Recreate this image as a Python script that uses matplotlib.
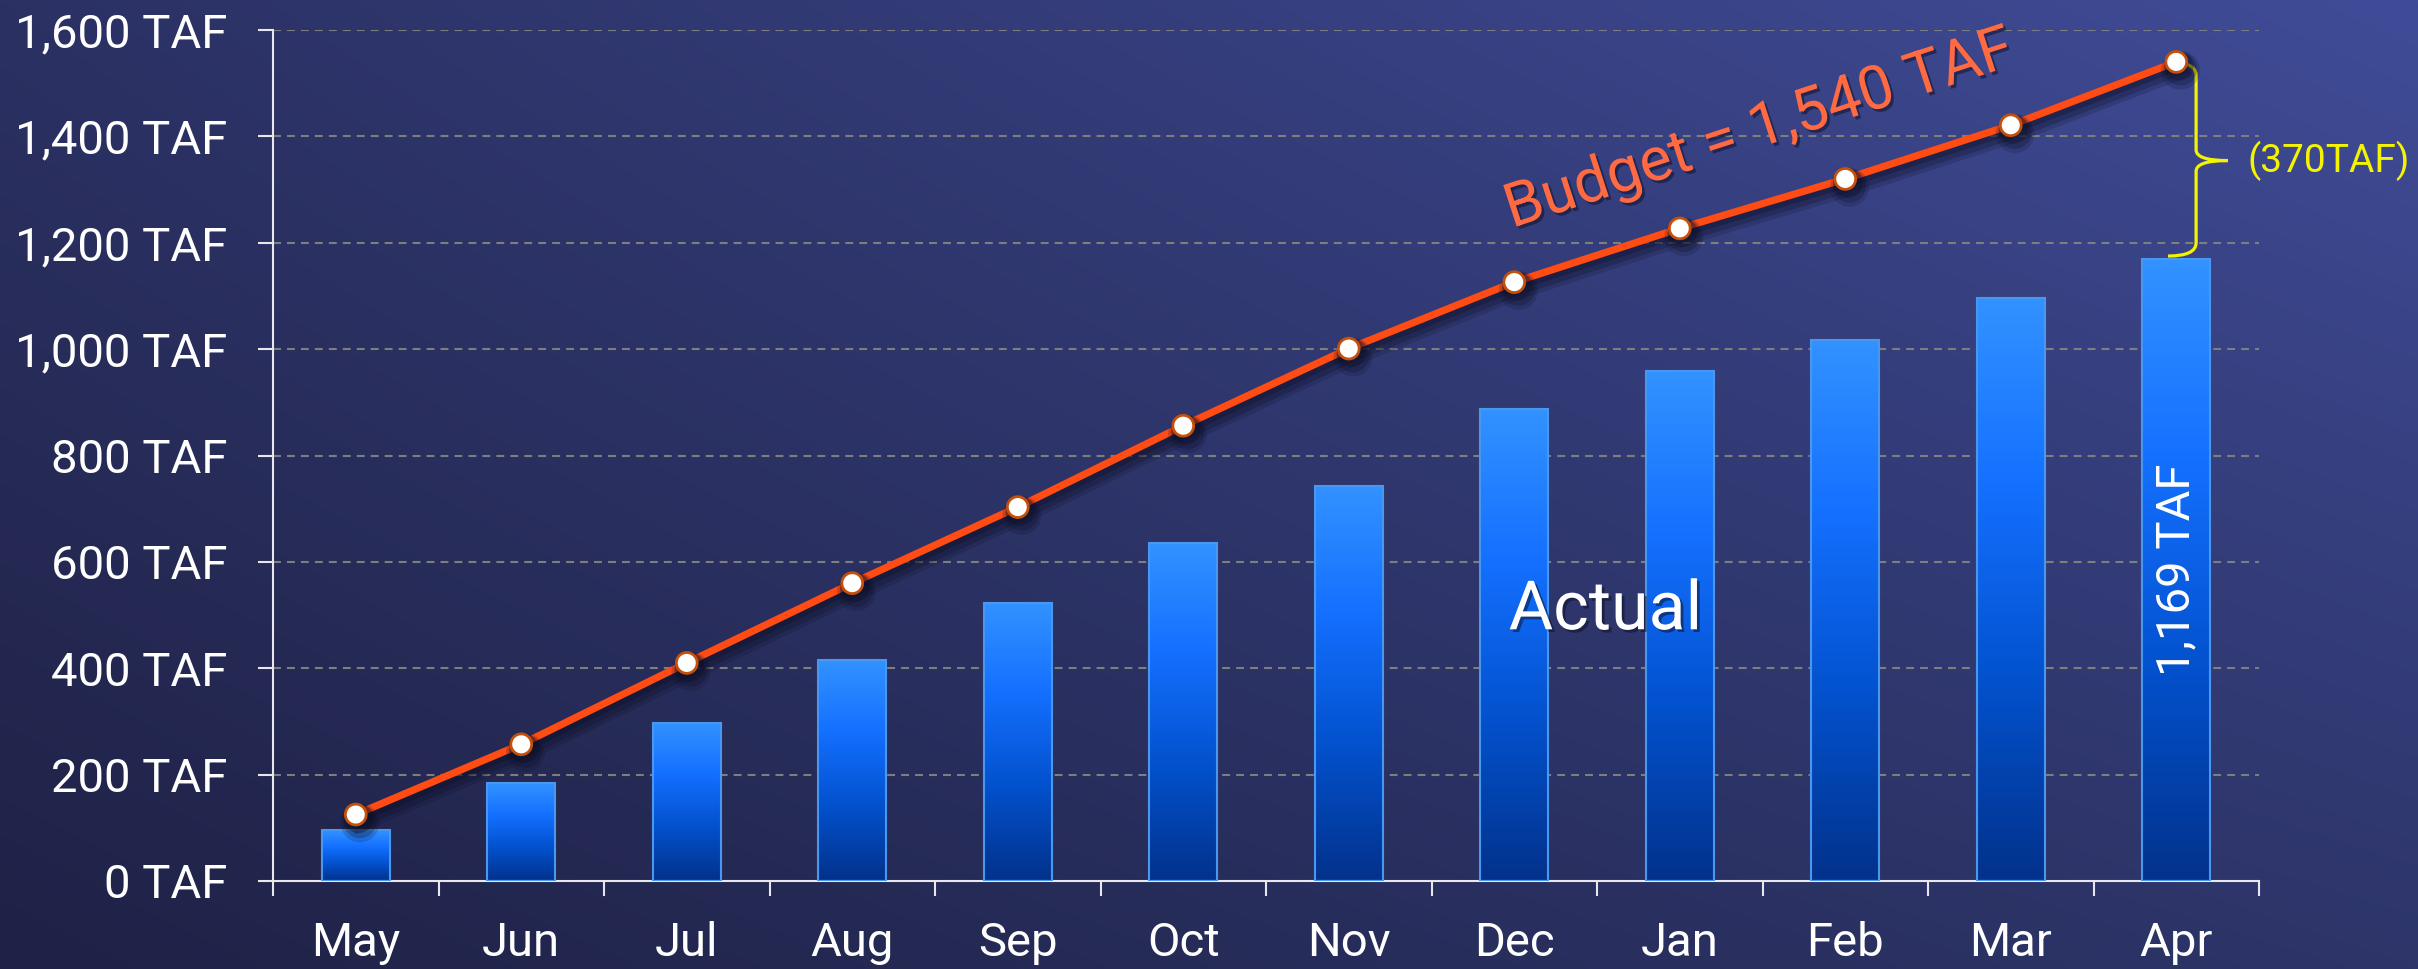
import numpy as np
import matplotlib
matplotlib.use("Agg")
import matplotlib.pyplot as plt
from matplotlib.colors import LinearSegmentedColormap
from matplotlib.path import Path
from matplotlib.patches import PathPatch
import matplotlib.patheffects as pe

plt.rcParams['font.family'] = ['Roboto', 'DejaVu Sans']

months = ["May", "Jun", "Jul", "Aug", "Sep", "Oct", "Nov", "Dec", "Jan", "Feb", "Mar", "Apr"]
actual = [95, 184, 298, 415, 523, 636, 743, 888, 958, 1018, 1097, 1169]
budget = [125, 257, 410, 560, 703, 856, 1001, 1126, 1227, 1320, 1421, 1540]
yticks = [0, 200, 400, 600, 800, 1000, 1200, 1400, 1600]

W, H = 2418, 969
fig = plt.figure(figsize=(W / 100, H / 100), dpi=100)

# background bilinear gradient
bg = fig.add_axes([0, 0, 1, 1], zorder=-10)
bl = np.array([0x1f, 0x22, 0x46]) / 255
tl = np.array([0x2b, 0x31, 0x63]) / 255
br = np.array([0x2d, 0x35, 0x69]) / 255
tr = np.array([0x40, 0x4c, 0x98]) / 255
u = np.linspace(0, 1, 256)[None, :, None]
v = np.linspace(1, 0, 128)[:, None, None]  # row 0 = top
img = (1 - u) * (v * tl + (1 - v) * bl) + u * (v * tr + (1 - v) * br)
bg.imshow(img, aspect='auto', extent=[0, 1, 0, 1], interpolation='bilinear')
bg.set_axis_off()

left_px, right_px, top_px, bot_px = 273, 2259, 30, 881
ax = fig.add_axes([left_px / W, (H - bot_px) / H, (right_px - left_px) / W, (bot_px - top_px) / H])
ax.patch.set_alpha(0)

x = np.arange(len(months)) + 0.5
bw = 0.41

bar_cmap = LinearSegmentedColormap.from_list(
    "bar", [(0, '#02328c'), (0.35, '#0352cf'), (0.68, '#1470ff'), (1, '#3292ff')])
grad = np.linspace(1, 0, 200)[:, None]

bars = ax.bar(x, actual, width=bw, color='none', edgecolor='#4a97f0', lw=1.5, zorder=3)
for b in bars:
    x0, y0 = b.get_x(), b.get_y()
    im = ax.imshow(grad, extent=[x0, x0 + b.get_width(), y0, y0 + b.get_height()],
                   aspect='auto', cmap=bar_cmap, vmin=0, vmax=1, zorder=2.5,
                   interpolation='bilinear')
    im.set_clip_path(b)

shadow = [pe.SimpleLineShadow(offset=(3, -6), shadow_color='#0c0e24', alpha=0.18, linewidth=13),
          pe.SimpleLineShadow(offset=(3, -5), shadow_color='#0c0e24', alpha=0.25, linewidth=9),
          pe.SimpleLineShadow(offset=(2, -3), shadow_color='#0c0e24', alpha=0.3, linewidth=6),
          pe.Normal()]
ax.plot(x, budget, color='#ff4b14', lw=5.2, marker='o', ms=15, mfc='white',
        mec='#c4500c', mew=2, zorder=5, path_effects=shadow)

ax.set_xlim(0, 12)
ax.set_ylim(0, 1600)

# axes styling
for s in ['top', 'right']:
    ax.spines[s].set_visible(False)
for s in ['left', 'bottom']:
    ax.spines[s].set_color('#e8e8ec')
    ax.spines[s].set_linewidth(1.5)

ax.set_yticks(yticks)
ax.set_yticklabels([f"{v:,} TAF" for v in yticks])
ax.tick_params(axis='y', length=10.8, width=1.5, color='#e8e8ec', pad=22,
               labelsize=34, labelcolor='white')
ax.set_xticks(np.arange(0, 13))
ax.set_xticklabels([])
ax.tick_params(axis='x', which='major', length=10.8, width=1.5, color='#e8e8ec')
ax.set_xticks(x, minor=True)
ax.set_xticklabels(months, minor=True)
ax.tick_params(axis='x', which='minor', length=0, pad=29, labelsize=34, labelcolor='white')

ax.set_axisbelow(True)
ax.yaxis.grid(True, color='#7d7f7c', lw=1.5, ls=(0, (3.8, 2.9)))
for gl in ax.yaxis.get_gridlines()[:1]:
    gl.set_visible(False)

ax.text(8.05, 509, "Actual", color='white', fontsize=49, ha='center', va='center',
        zorder=6, path_effects=[pe.SimplePatchShadow(offset=(2, -2), shadow_rgbFace='#0c0e24', alpha=0.5), pe.Normal()])
ax.text(11.5, 586, f"{actual[-1]:,} TAF", color='white', fontsize=34, rotation=90,
        ha='center', va='center', zorder=6)
ax.text(8.98, 1412, f"Budget = {budget[-1]:,} TAF", color='#ff6a42', fontsize=44,
        rotation=18, rotation_mode='anchor', ha='center', va='center', zorder=6,
        path_effects=[pe.SimplePatchShadow(offset=(2, -2), shadow_rgbFace='#0c0e24', alpha=0.5), pe.Normal()])

# curly brace between budget and actual at Apr
ytop, ybot = budget[-1], actual[-1] + 6
ymid = (budget[-1] + actual[-1]) / 2
xs, xv, xt = 11.45, 11.62, 11.81
r, r2 = 25, 20
verts = [(xs, ytop), (xv, ytop), (xv, ytop - r),
         (xv, ymid + r2), (xv, ymid), (xt, ymid),
         (xv, ymid), (xv, ymid - r2),
         (xv, ybot + r), (xv, ybot), (xs, ybot)]
codes = [Path.MOVETO, Path.CURVE3, Path.CURVE3,
         Path.LINETO, Path.CURVE3, Path.CURVE3,
         Path.CURVE3, Path.CURVE3,
         Path.LINETO, Path.CURVE3, Path.CURVE3]
ax.add_patch(PathPatch(Path(verts, codes), fc='none', ec='#f4f400', lw=2.3, zorder=4, clip_on=False))
gap = budget[-1] - actual[-1]
ax.text(11.93, ymid, f"({round(gap, -1):.0f}TAF)", color='#f4f400', fontsize=28,
        ha='left', va='center', clip_on=False)

fig.savefig("out.png", dpi=100)
